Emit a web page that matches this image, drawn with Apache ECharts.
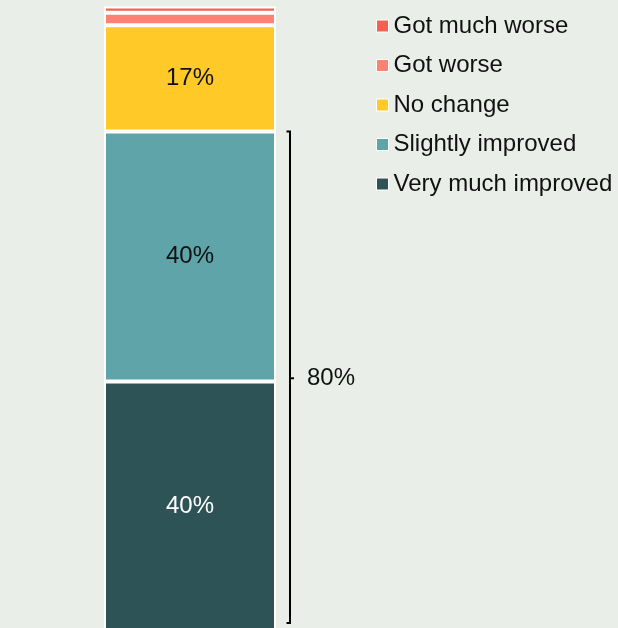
<!DOCTYPE html>
<html>
<head>
<meta charset="utf-8">
<script src="https://cdn.jsdelivr.net/npm/echarts@6/dist/echarts.min.js"></script>
<style>
  html, body { margin: 0; padding: 0; background: #e9eee9; overflow: hidden; }
  /* The column runs past the bottom edge of the visible page */
  #chart { width: 618px; height: 640px; }
</style>
</head>
<body>
<div id="chart"></div>
<script>
// One stacked column of survey responses, bottom to top
const categories = ['All respondents'];
const responseNames = ['Very much improved', 'Slightly improved', 'No change', 'Got worse', 'Got much worse'];
const veryMuchImproved = [40];
const slightlyImproved = [40];
const noChange = [17];
const gotWorse = [2];
const gotMuchWorse = [1];
const responseColors = ['#2e5356', '#5fa4a8', '#ffca28', '#ff8174', '#f4624f'];
const labelColors = ['#ffffff', '#111111', '#111111', '#111111', '#111111'];

const seriesValues = [veryMuchImproved, slightlyImproved, noChange, gotWorse, gotMuchWorse];

// Bracket covers both "improved" groups
const improvedTotal = veryMuchImproved[0] + slightlyImproved[0];

const VISIBLE_HEIGHT = 628;
const FONT = '"Liberation Sans", Arial, Helvetica, sans-serif';

const barSeries = responseNames.map((name, i) => ({
  name: name,
  type: 'bar',
  stack: 'total',
  barWidth: '100%',
  data: seriesValues[i],
  itemStyle: { color: responseColors[i], borderColor: '#ffffff', borderWidth: 2 },
  label: {
    show: seriesValues[i][0] >= 5,
    position: 'inside',
    formatter: p => p.value + '%',
    color: labelColors[i],
    fontFamily: FONT,
    fontSize: 24
  },
  emphasis: { disabled: true },
  animation: false
}));

const bracketSeries = {
  type: 'custom',
  name: 'bracket',
  silent: true,
  animation: false,
  clip: false,
  data: [[0, 0, improvedTotal]],
  renderItem: function (params, api) {
    const center = api.coord([api.value(0), 0])[0];
    const bandW = api.size([1, 0])[0];
    const x = center + bandW / 2 + 14;
    const yTop = api.coord([api.value(0), api.value(2)])[1];
    const yBot = Math.min(api.coord([api.value(0), api.value(1)])[1], VISIBLE_HEIGHT - 5);
    const yMid = (yTop + yBot) / 2 + 1;
    const stroke = { stroke: '#000000', lineWidth: 2, fill: null };
    return {
      type: 'group',
      children: [
        { type: 'polyline', shape: { points: [[x - 3.5, yTop], [x, yTop], [x, yBot], [x - 3.5, yBot]] }, style: stroke },
        { type: 'line', shape: { x1: x, y1: yMid, x2: x + 4, y2: yMid }, style: stroke },
        {
          type: 'text',
          style: {
            x: x + 17, y: yMid,
            text: (api.value(2) - api.value(1)) + '%',
            fill: '#111111',
            font: '24px ' + FONT,
            verticalAlign: 'middle',
            align: 'left'
          }
        }
      ]
    };
  }
};

const chart = echarts.init(document.getElementById('chart'), null, { renderer: 'canvas' });
chart.setOption({
  backgroundColor: '#e9eee9',
  animation: false,
  grid: { left: 104, width: 172, top: 6.5, height: 625, containLabel: false },
  xAxis: { type: 'category', data: categories, show: false },
  yAxis: { type: 'value', min: 0, max: 100, show: false },
  legend: {
    data: responseNames.slice().reverse(),
    orient: 'vertical',
    left: 376,
    top: 14,
    padding: 0,
    itemWidth: 12,
    itemHeight: 12,
    itemGap: 15.5,
    icon: 'rect',
    itemStyle: { borderColor: '#ffffff', borderWidth: 1 },
    selectedMode: false,
    textStyle: { fontFamily: FONT, fontSize: 24, color: '#111111', lineHeight: 24, padding: [0, 0, 0, 0] }
  },
  series: barSeries.concat([bracketSeries])
});
</script>
</body>
</html>
